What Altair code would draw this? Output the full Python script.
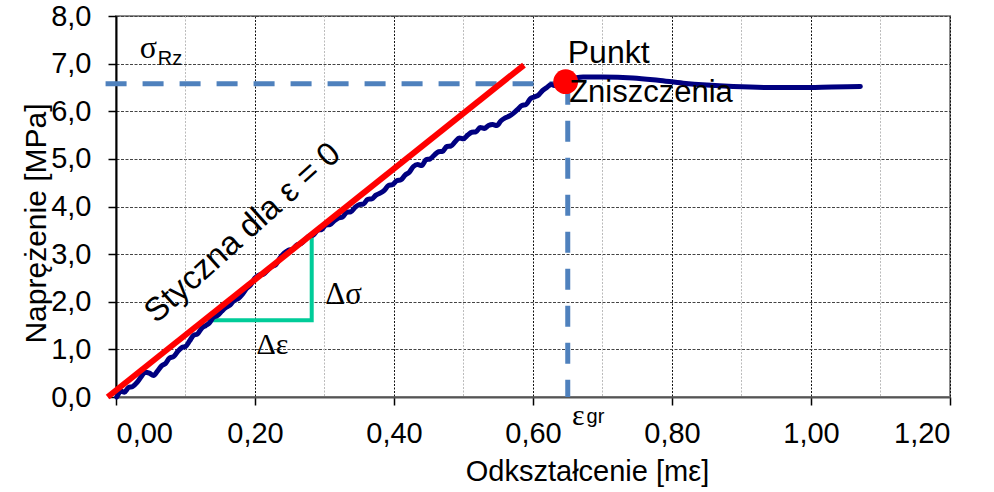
import altair as alt
import pandas as pd

# Measured stress-strain curve (strain in milli-strain, stress in MPa)
strain = [0.001, 0.008, 0.012, 0.018, 0.024, 0.030, 0.036, 0.042, 0.048, 0.054,
          0.060, 0.066, 0.071, 0.077, 0.083, 0.089, 0.095, 0.100, 0.106, 0.112,
          0.117, 0.123, 0.129, 0.134, 0.140, 0.146, 0.152, 0.158, 0.164, 0.170,
          0.176, 0.182, 0.188, 0.194, 0.200, 0.206, 0.212, 0.218, 0.224, 0.230,
          0.236, 0.242, 0.248, 0.254, 0.260, 0.266, 0.272, 0.278, 0.284, 0.290,
          0.296, 0.302, 0.308, 0.314, 0.320, 0.326, 0.332, 0.338, 0.344, 0.350,
          0.356, 0.362, 0.368, 0.374, 0.380, 0.386, 0.392, 0.398, 0.404, 0.410,
          0.416, 0.422, 0.428, 0.434, 0.440, 0.446, 0.452, 0.458, 0.464, 0.470,
          0.476, 0.482, 0.488, 0.494, 0.500, 0.506, 0.512, 0.518, 0.524, 0.530,
          0.536, 0.542, 0.548, 0.554, 0.560, 0.566, 0.572, 0.578, 0.584, 0.590,
          0.596, 0.602, 0.608, 0.614, 0.620, 0.626, 0.632, 0.640, 0.652, 0.672,
          0.700, 0.744, 0.780, 0.816, 0.850, 0.888, 0.940, 0.984, 1.030, 1.071]
stress = [0.00, 0.12, 0.10, 0.20, 0.22, 0.30, 0.42, 0.52, 0.50, 0.45,
          0.55, 0.66, 0.70, 0.82, 0.85, 0.96, 1.04, 1.06, 1.18, 1.30,
          1.32, 1.44, 1.50, 1.55, 1.67, 1.71, 1.80, 1.88, 1.93, 2.03,
          2.07, 2.16, 2.28, 2.36, 2.50, 2.56, 2.58, 2.66, 2.74, 2.78,
          2.92, 3.02, 3.08, 3.10, 3.19, 3.22, 3.30, 3.38, 3.40, 3.50,
          3.52, 3.61, 3.62, 3.70, 3.76, 3.78, 3.88, 3.89, 3.98, 4.04,
          4.05, 4.15, 4.16, 4.24, 4.28, 4.34, 4.44, 4.46, 4.54, 4.56,
          4.66, 4.72, 4.84, 4.88, 4.86, 4.98, 5.00, 5.08, 5.15, 5.16,
          5.26, 5.27, 5.36, 5.44, 5.42, 5.50, 5.56, 5.57, 5.66, 5.64,
          5.70, 5.72, 5.70, 5.80, 5.86, 5.90, 5.96, 6.04, 6.12, 6.14,
          6.26, 6.30, 6.34, 6.44, 6.50, 6.56, 6.54, 6.58, 6.66, 6.72,
          6.72, 6.70, 6.65, 6.59, 6.55, 6.52, 6.50, 6.50, 6.51, 6.52]

# Tangent at zero strain
tangent_strain = [-0.012, 0.587]
tangent_stress = [0.0, 6.97]

# Slope triangle (Δε, Δσ)
tri_strain = [0.132, 0.2816, 0.2816]
tri_stress = [1.61, 1.61, 3.36]

# Failure point and its reference lines
fail_strain = 0.647
fail_stress = 6.62
sigma_rz = 6.58
eps_gr = 0.650
ref_h_strain = [-0.015, 0.650]

x_ticks = [0.0, 0.2, 0.4, 0.6, 0.8, 1.0, 1.2]
x_minor = [0.1, 0.3, 0.5, 0.7, 0.9, 1.1]
y_ticks = [0, 1, 2, 3, 4, 5, 6, 7, 8]

FONT = "Liberation Sans"
SERIF = "Liberation Serif"

xs = alt.Scale(domain=[0, 1.2], nice=False, zero=False)
ys = alt.Scale(domain=[0, 8], nice=False)

x_axis = alt.Axis(
    values=x_ticks,
    labelExpr="replace(format(datum.value, '.2f'), '.', ',')",
    title="Odkształcenie [mε]",
    titleX=471, titleY=83, titleAlign="center", titleBaseline="alphabetic",
    titleFont=FONT, titleFontSize=29, titleFontWeight="normal", titleColor="#000",
    labelFont=FONT, labelFontSize=29, labelColor="#000", labelPadding=14,
    tickSize=8, tickColor="#000", tickWidth=1.5,
    domainColor="#555", domainWidth=2,
    grid=True, gridColor="#111", gridDash=[2, 1.5], gridWidth=1,
)
y_axis = alt.Axis(
    values=y_ticks,
    labelExpr="replace(format(datum.value, '.1f'), '.', ',')",
    title="Naprężenie [MPa]",
    titleX=-71, titleY=207, titleAngle=270, titleAlign="center", titleBaseline="alphabetic",
    titleFont=FONT, titleFontSize=30, titleFontWeight="normal", titleColor="#000",
    labelFont=FONT, labelFontSize=29, labelColor="#000", labelPadding=17,
    tickSize=8, tickColor="#000", tickWidth=1.5,
    domainColor="#000", domainWidth=2,
    grid=True, gridColor="#444", gridDash=[3, 1.5], gridWidth=1,
)


def X(field="x"):
    return alt.X(f"{field}:Q", scale=xs, axis=x_axis)


def Y(field="y"):
    return alt.Y(f"{field}:Q", scale=ys, axis=y_axis)


curve_df = pd.DataFrame({"x": strain, "y": stress, "i": range(len(strain))})
tangent_df = pd.DataFrame({"x": tangent_strain, "y": tangent_stress, "i": [0, 1]})
tri_df = pd.DataFrame({"x": tri_strain, "y": tri_stress, "i": [0, 1, 2]})

minor_grid = alt.Chart(pd.DataFrame({"x": x_minor})).mark_rule(
    color="#bbbbbb", strokeDash=[2, 1.5], strokeWidth=1
).encode(x=X())

ref_h = alt.Chart(pd.DataFrame({"x": [ref_h_strain[0]], "x2": [ref_h_strain[1]], "y": [sigma_rz]})).mark_rule(
    color="#4F81BD", strokeWidth=5, strokeDash=[21, 16]
).encode(x=X(), x2="x2:Q", y=Y())

ref_v = alt.Chart(pd.DataFrame({"x": [eps_gr], "y": [sigma_rz], "y2": [0.0]})).mark_rule(
    color="#4F81BD", strokeWidth=5, strokeDash=[21, 16]
).encode(x=X(), y=Y(), y2="y2:Q")

triangle = alt.Chart(tri_df).mark_line(color="#00CC99", strokeWidth=4).encode(
    x=X(), y=Y(), order="i:O"
)

curve = alt.Chart(curve_df).mark_line(
    color="#000080", strokeWidth=5, strokeJoin="round", strokeCap="round",
    interpolate="monotone"
).encode(x=X(), y=Y(), order="i:O")

tangent = alt.Chart(tangent_df).mark_line(color="#FF0000", strokeWidth=6, clip=False).encode(
    x=X(), y=Y(), order="i:O"
)

dot = alt.Chart(pd.DataFrame({"x": [fail_strain], "y": [fail_stress]})).mark_circle(
    color="#FF0000", size=615, opacity=1
).encode(x=X(), y=Y())


def label(text, x, y, size, font=FONT, angle=0, align="left", baseline="alphabetic"):
    kw = dict(font=font, fontSize=size, color="#000", align=align, baseline=baseline)
    if angle:
        kw["angle"] = angle
    return alt.Chart(pd.DataFrame({"x": [x], "y": [y], "t": [text]})).mark_text(**kw).encode(
        x=X(), y=Y(), text="t:N"
    )


texts = [
    label("σ", 0.034, 7.12, 32, font=SERIF),
    label("Rz", 0.060, 6.97, 20),
    label("Punkt", 0.650, 7.01, 32),
    label("Zniszczenia", 0.652, 6.20, 31),
    label("Styczna dla ε = 0", 0.058, 1.53, 33, angle=318),
    label("Δσ", 0.301, 1.95, 31, font=SERIF),
    label("Δε", 0.202, 0.91, 30, font=SERIF),
    label("ε", 0.656, -0.59, 30, font=SERIF),
    label("gr", 0.677, -0.55, 20),
]

chart = alt.layer(
    minor_grid, ref_h, ref_v, triangle, curve, tangent, dot, *texts
).properties(
    width=834, height=381,
    padding={"left": 116, "top": 16, "right": 44, "bottom": 95},
    autosize=alt.AutoSizeParams(type="none"),
    background="white",
).configure_view(
    stroke="#8c8c8c", strokeWidth=2
)

chart.save("out.html", embed_options={"renderer": "svg", "actions": False})
